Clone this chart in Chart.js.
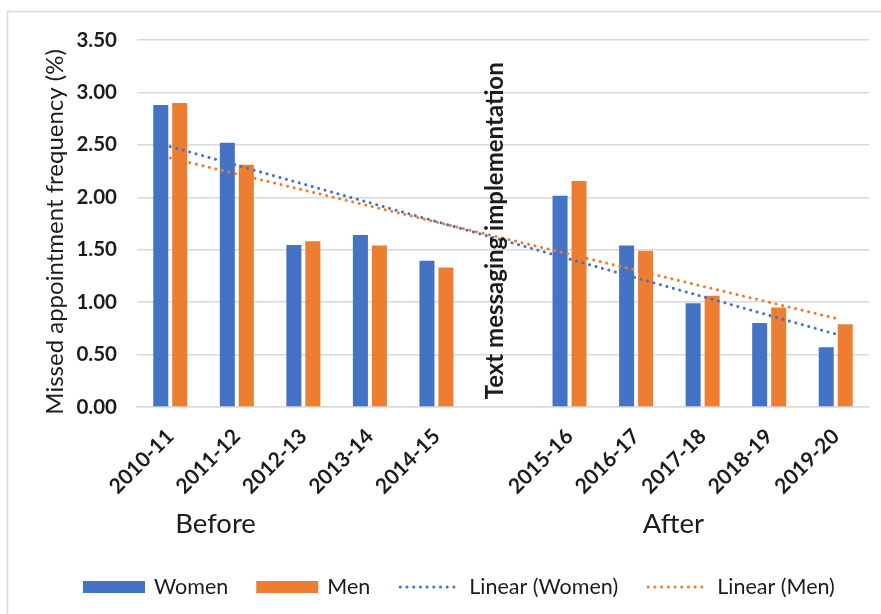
<!DOCTYPE html>
<html>
<head>
<meta charset="utf-8">
<script src="https://cdn.jsdelivr.net/npm/chart.js@4.4.1/dist/chart.umd.min.js"></script>
<style>
  html, body { margin: 0; padding: 0; background: #fff; }
  canvas { display: block; }
</style>
</head>
<body>
<canvas id="chart" width="881" height="614"></canvas>
<script>
// Financial years; the empty slot marks the switch to text-message reminders
const years = ['2010-11', '2011-12', '2012-13', '2013-14', '2014-15', '', '2015-16', '2016-17', '2017-18', '2018-19', '2019-20'];
// Missed appointment frequency (%)
const women = [2.88, 2.52, 1.545, 1.64, 1.395, null, 2.015, 1.54, 0.99, 0.80, 0.57];
const men   = [2.90, 2.31, 1.58, 1.54, 1.33, null, 2.155, 1.49, 1.06, 0.95, 0.79];
// Value axis ticks
const yTickValues = [0, 0.5, 1, 1.5, 2, 2.5, 3, 3.5];
const yTitle = 'Missed appointment frequency (%)';
const periodLabels = ['Before', 'After'];
const dividerLabel = 'Text messaging implementation';

const BLUE = '#4472C4';
const ORANGE = '#ED7D31';
const GRID = '#d9d9d9';
const INK = '#1c1c1c';

// Ordinary least-squares trend over category positions 1..n (blank slots skipped)
function linearTrend(values) {
  const pts = values.map((v, i) => [i + 1, v]).filter(p => p[1] !== null);
  const n = pts.length;
  const mx = pts.reduce((s, p) => s + p[0], 0) / n;
  const my = pts.reduce((s, p) => s + p[1], 0) / n;
  let sxy = 0, sxx = 0;
  pts.forEach(p => { sxy += (p[0] - mx) * (p[1] - my); sxx += (p[0] - mx) ** 2; });
  const slope = sxy / sxx;
  return values.map((_, i) => my + slope * (i + 1 - mx));
}

Chart.defaults.font.family = 'Lato, "Open Sans", sans-serif';
Chart.defaults.color = INK;

const overlay = {
  id: 'overlay',
  beforeDraw(chart) {
    const ctx = chart.ctx;
    ctx.save();
    ctx.fillStyle = '#fff';
    ctx.fillRect(0, 0, chart.width, chart.height);
    ctx.restore();
  },
  afterDraw(chart) {
    const ctx = chart.ctx;
    const x = chart.scales.x;
    const y = chart.scales.y;
    ctx.save();

    // outer frame
    ctx.strokeStyle = '#d6d6d6';
    ctx.lineWidth = 1.5;
    ctx.beginPath();
    ctx.moveTo(7.5, chart.height);
    ctx.lineTo(7.5, 11.5);
    ctx.lineTo(chart.width, 11.5);
    ctx.stroke();

    ctx.fillStyle = INK;
    ctx.textAlign = 'center';
    ctx.textBaseline = 'middle';

    // value axis title
    ctx.save();
    ctx.translate(55, y.getPixelForValue(1.67));
    ctx.rotate(-Math.PI / 2);
    ctx.font = '24px Lato';
    ctx.fillText(yTitle, 0, 0);
    ctx.restore();

    // period captions under the axis
    ctx.font = '27.5px Lato';
    ctx.fillText(periodLabels[0], x.getPixelForValue(0.68), 524);
    ctx.fillText(periodLabels[1], x.getPixelForValue(7.56), 524);

    // divider label in the empty slot
    ctx.save();
    ctx.translate(x.getPixelForValue(5) - 8, y.getPixelForValue(1.68));
    ctx.rotate(-Math.PI / 2);
    ctx.font = 'bold 24px Lato';
    ctx.fillText(dividerLabel, 0, 0);
    ctx.restore();

    // legend row
    ctx.font = '21.5px Lato';
    ctx.textAlign = 'left';
    let lx = 83;
    const ly = 587;
    chart.data.datasets.forEach(ds => {
      if (ds.type === 'line') {
        ctx.strokeStyle = ds.borderColor;
        ctx.lineWidth = ds.borderWidth;
        ctx.lineCap = 'round';
        ctx.setLineDash(ds.borderDash);
        ctx.beginPath();
        ctx.moveTo(lx + 2, ly);
        ctx.lineTo(lx + 60, ly);
        ctx.stroke();
        ctx.setLineDash([]);
      } else {
        ctx.fillStyle = ds.backgroundColor;
        ctx.fillRect(lx, ly - 6, 62, 12);
      }
      ctx.fillStyle = INK;
      ctx.fillText(ds.label, lx + 71, ly);
      lx += 71 + ctx.measureText(ds.label).width + 28;
    });
    ctx.restore();
  }
};

new Chart(document.getElementById('chart'), {
  type: 'bar',
  data: {
    labels: years,
    datasets: [
      { label: 'Women', data: women, backgroundColor: BLUE, order: 1,
        categoryPercentage: 0.571, barPercentage: 0.79 },
      { label: 'Men', data: men, backgroundColor: ORANGE, order: 1,
        categoryPercentage: 0.571, barPercentage: 0.79 },
      { type: 'line', label: 'Linear (Women)', data: linearTrend(women), borderColor: BLUE, borderWidth: 3,
        borderDash: [0.1, 6.6], borderCapStyle: 'round', pointRadius: 0, fill: false, order: 0 },
      { type: 'line', label: 'Linear (Men)', data: linearTrend(men), borderColor: ORANGE, borderWidth: 3,
        borderDash: [0.1, 6.6], borderCapStyle: 'round', pointRadius: 0, fill: false, order: 0 }
    ]
  },
  options: {
    responsive: false,
    animation: false,
    layout: { padding: { top: 40, right: 12, left: 0, bottom: 0 } },
    plugins: { legend: { display: false }, tooltip: { enabled: false } },
    scales: {
      x: {
        grid: { display: false },
        border: { color: GRID, width: 1.5 },
        ticks: { maxRotation: 45, minRotation: 45, autoSkip: false, padding: 9,
                 font: { size: 21, weight: 'bold' }, color: INK },
        afterFit(s) { s.height = 207; }
      },
      y: {
        min: 0, max: 3.5,
        afterBuildTicks(s) { s.ticks = yTickValues.map(v => ({ value: v })); },
        grid: { color: GRID, lineWidth: 1.5, drawTicks: false },
        border: { display: false },
        ticks: { padding: 20, font: { size: 20.5, weight: 'bold' }, color: INK,
                 callback: v => Number(v).toFixed(2) },
        afterFit(s) { s.width = 137; }
      }
    }
  },
  plugins: [overlay]
});
</script>
</body>
</html>
